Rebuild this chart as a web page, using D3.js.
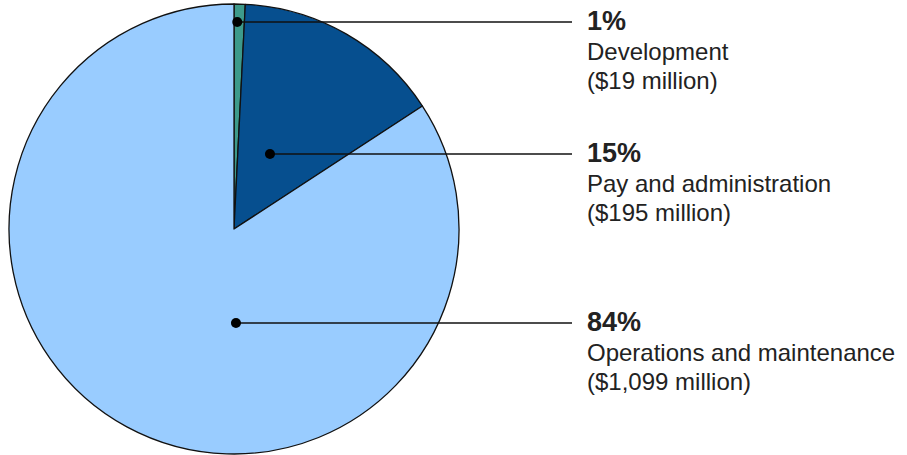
<!DOCTYPE html>
<html>
<head>
<meta charset="utf-8">
<script src="https://cdn.jsdelivr.net/npm/d3@7"></script>
<style>
  body { margin: 0; background: #fff; }
  svg { display: block; font-family: Arial, "Liberation Sans", sans-serif; }
</style>
</head>
<body>
<div id="chart"></div>
<script>
// data
var categories = ["Development", "Pay and administration", "Operations and maintenance"];
var percents = ["1%", "15%", "84%"];
var amounts = ["($19 million)", "($195 million)", "($1,099 million)"];
// slice shares as drawn in the picture
var shares = [0.8, 15.0, 84.2];

var colors = ["#3d9a8b", "#064f8f", "#99ccff"];

var w = 907, h = 455,
    cx = 234, cy = 229, r = 225;

// where each leader line starts inside its slice (angle in degrees, fraction of radius)
var anchors = [
  { a: 0.9, f: 0.92 },
  { a: 25.6, f: 0.37 },
  { a: 178.8, f: 0.418 }
];
var lineEnd = 572, textX = 587;

var svg = d3.select("#chart").append("svg")
    .attr("width", w)
    .attr("height", h);

var pie = d3.pie().sort(null).value(function(d) { return d; });
var arc = d3.arc().innerRadius(0).outerRadius(r);

var g = svg.append("g")
    .attr("transform", "translate(" + cx + "," + cy + ")");

g.selectAll("path")
    .data(pie(shares))
  .enter().append("path")
    .attr("d", arc)
    .style("fill", function(d, i) { return colors[i]; })
    .style("stroke", "#111")
    .style("stroke-width", 1.3)
    .style("stroke-linejoin", "round");

var pts = anchors.map(function(p) {
  var t = p.a * Math.PI / 180;
  return [cx + p.f * r * Math.sin(t), cy - p.f * r * Math.cos(t)];
});

var lab = svg.selectAll("g.lab")
    .data(categories)
  .enter().append("g")
    .attr("class", "lab");

lab.append("line")
    .attr("x1", function(d, i) { return pts[i][0]; })
    .attr("y1", function(d, i) { return pts[i][1]; })
    .attr("x2", lineEnd)
    .attr("y2", function(d, i) { return pts[i][1]; })
    .style("stroke", "#111")
    .style("stroke-width", 1.5);

lab.append("circle")
    .attr("cx", function(d, i) { return pts[i][0]; })
    .attr("cy", function(d, i) { return pts[i][1]; })
    .attr("r", 5)
    .style("fill", "#000");

var txt = lab.append("text")
    .attr("x", textX)
    .attr("y", function(d, i) { return pts[i][1] + 8; })
    .style("fill", "#222");

txt.append("tspan")
    .attr("x", textX)
    .style("font-weight", "bold")
    .style("font-size", "27px")
    .text(function(d, i) { return percents[i]; });

txt.append("tspan")
    .attr("x", textX)
    .attr("dy", 30)
    .style("font-size", "24px")
    .text(function(d) { return d; });

txt.append("tspan")
    .attr("x", textX)
    .attr("dy", 29)
    .style("font-size", "24px")
    .text(function(d, i) { return amounts[i]; });
</script>
</body>
</html>
